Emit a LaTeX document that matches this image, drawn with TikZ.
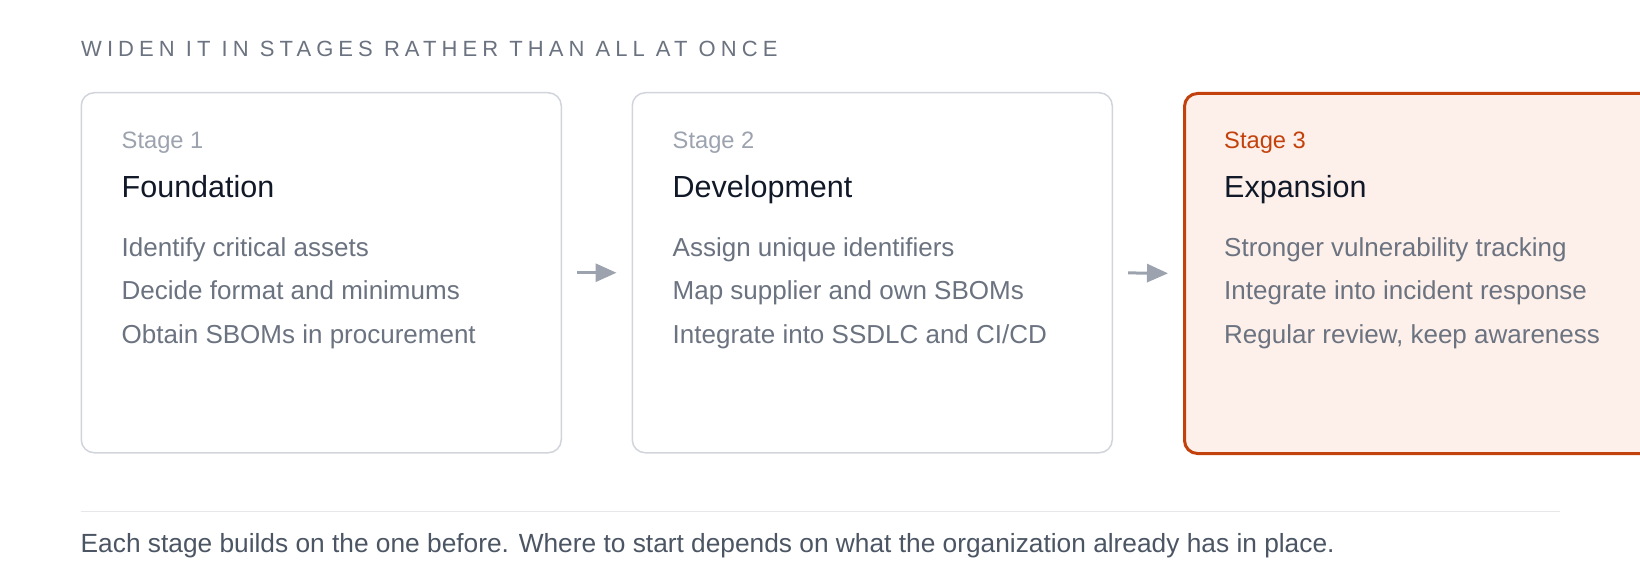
\documentclass[tikz,border=0pt]{standalone}
\usepackage{fontspec}
\setmainfont{Liberation Sans}
\newfontfamily\spacedfont[LetterSpace=23]{Liberation Sans}
\usetikzlibrary{arrows.meta}
\definecolor{cardborder}{HTML}{D1D5DB}
\definecolor{hotborder}{HTML}{C2410C}
\definecolor{hotfill}{HTML}{FDF0EA}
\definecolor{labgray}{HTML}{9CA3AF}
\definecolor{headink}{HTML}{111827}
\definecolor{bodyink}{HTML}{6B7280}
\definecolor{footink}{HTML}{4B5563}
\definecolor{rulegray}{HTML}{E5E7EB}
\definecolor{arrowgray}{HTML}{9CA3AF}
\tikzset{
  card/.style={draw=cardborder, line width=1.5pt, rounded corners=13pt, fill=white,
    minimum width=480pt, minimum height=360pt, inner sep=0pt, anchor=north west},
  hotcard/.style={card, draw=hotborder, fill=hotfill, line width=3pt},
  lab/.style={anchor=base west, inner sep=0pt, text=labgray, font=\fontsize{23.7}{28}\selectfont},
  hotlab/.style={lab, text=hotborder},
  head/.style={anchor=base west, inner sep=0pt, text=headink, font=\fontsize{30.5}{36}\selectfont},
  body/.style={anchor=base west, inner sep=0pt, text=bodyink, font=\fontsize{26}{32}\selectfont},
  flow/.style={draw=arrowgray, line width=3pt, -{Triangle[length=21pt,width=18pt]},
    shorten <=15pt, shorten >=15pt},
}
\begin{document}
\begin{tikzpicture}[x=1pt,y=-1pt]
\useasboundingbox (0,0) rectangle (1640,572);
\clip (0,0) rectangle (1640,572);
\fill[white] (0,0) rectangle (1640,572);

\node[anchor=base west, inner sep=0pt, text=bodyink, font=\spacedfont\fontsize{22}{26}\selectfont] (ttl) at (81,57) {WIDEN IT IN STAGES RATHER THAN ALL AT ONCE};

\node[card] (b1) at (80.5,92) {};
\node[card] (b2) at (631.5,92) {};
\node[hotcard] (b3) at (1183,92) {};

\draw[flow] (b1.east) -- (b2.west);
\draw[flow] (b2.east) -- (b3.west);

% stage 1
\node[lab] (s1) at (121.5,148.5) {Stage 1};
\node[head] (h1) at (121.5,197) {Foundation};
\node[body] (t11) at (121.5,256) {Identify critical assets};
\node[body] (t12) at (121.5,299) {Decide format and minimums};
\node[body] (t13) at (121.5,343) {Obtain SBOMs in procurement};

% stage 2
\node[lab] (s2) at (672.5,148.5) {Stage 2};
\node[head] (h2) at (672.5,197) {Development};
\node[body] (t21) at (672.5,256) {Assign unique identifiers};
\node[body] (t22) at (672.5,299) {Map supplier and own SBOMs};
\node[body] (t23) at (672.5,343) {Integrate into SSDLC and CI/CD};

% stage 3
\node[hotlab] (s3) at (1224,148.5) {Stage 3};
\node[head] (h3) at (1224,197) {Expansion};
\node[body] (t31) at (1224,256) {Stronger vulnerability tracking};
\node[body] (t32) at (1224,299) {Integrate into incident response};
\node[body] (t33) at (1224,343) {Regular review, keep awareness};

\coordinate (rl) at (80.5,511.5);
\coordinate (rr) at (1560,511.5);
\draw[rulegray, line width=1.5pt] (rl) -- (rr);

\node[anchor=base west, inner sep=0pt, text=footink, font=\fontsize{26.3}{30}\selectfont] (foot) at (80.5,552) {Each stage builds on the one before. Where to start depends on what the organization already has in place.};
\end{tikzpicture}
\end{document}
